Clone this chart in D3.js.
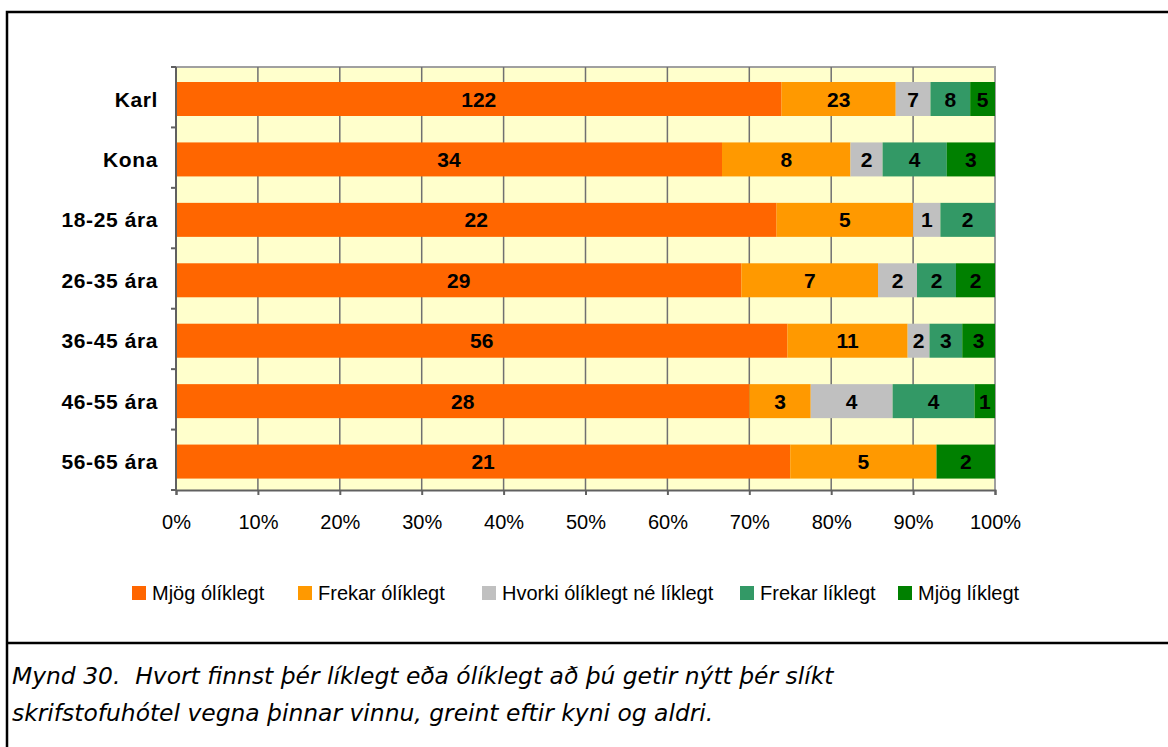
<!DOCTYPE html>
<html>
<head>
<meta charset="utf-8">
<script src="https://cdn.jsdelivr.net/npm/d3@7"></script>
<style>
  body { margin: 0; background: #fff; }
</style>
</head>
<body>
<div id="chart"></div>
<script>
var categories = ["Karl", "Kona", "18-25 ára", "26-35 ára", "36-45 ára", "46-55 ára", "56-65 ára"];
var series = ["Mjög ólíklegt", "Frekar ólíklegt", "Hvorki ólíklegt né líklegt", "Frekar líklegt", "Mjög líklegt"];
var colors = ["#ff6600", "#ff9900", "#c0c0c0", "#339966", "#008000"];
var mjogOlik = [122, 34, 22, 29, 56, 28, 21];
var frekarOlik = [23, 8, 5, 7, 11, 3, 5];
var hvorki = [7, 2, 1, 2, 2, 4, 0];
var frekarLik = [8, 4, 2, 2, 3, 4, 0];
var mjogLik = [5, 3, 0, 2, 3, 1, 2];
var ticks = [0, 0.1, 0.2, 0.3, 0.4, 0.5, 0.6, 0.7, 0.8, 0.9, 1];
var captionLines = [
  "Mynd 30.  Hvort finnst þér líklegt eða ólíklegt að þú getir nýtt þér slíkt",
  "skrifstofuhótel vegna þinnar vinnu, greint eftir kyni og aldri."
];

var rows = categories.map(function (c, i) {
  return { cat: c, vals: [mjogOlik[i], frekarOlik[i], hvorki[i], frekarLik[i], mjogLik[i]] };
});
var table = rows.map(function (r) {
  var o = { cat: r.cat };
  var total = d3.sum(r.vals);
  series.forEach(function (s, j) { o[s] = r.vals[j] / total; });
  o.raw = r.vals;
  return o;
});
var stacked = d3.stack().keys(series)(table);

var W = 1168, H = 747;
var svg = d3.select("#chart").append("svg")
    .attr("width", W)
    .attr("height", H)
    .attr("font-family", "Arial, 'Liberation Sans', sans-serif");

var pLeft = 176, pRight = 995, pTop = 67, pBottom = 490;
var x = d3.scaleLinear().domain([0, 1]).range([pLeft, pRight]);
var y = d3.scaleBand().domain(categories).range([pTop, pBottom]);

// outer frame
svg.append("path")
    .attr("d", "M7,747 V12 H1168 M7,643 H1168")
    .attr("fill", "none")
    .attr("stroke", "#000")
    .attr("stroke-width", 2.5);

// plot background
svg.append("rect")
    .attr("x", pLeft).attr("y", pTop)
    .attr("width", pRight - pLeft).attr("height", pBottom - pTop)
    .attr("fill", "#ffffcc");
svg.append("path")
    .attr("d", "M" + pLeft + "," + pTop + " H" + pRight + " V" + pBottom)
    .attr("fill", "none")
    .attr("stroke", "#a0a0a0")
    .attr("stroke-width", 2);

// grid lines
svg.append("g").selectAll("line")
    .data(ticks.slice(1, -1)).enter().append("line")
    .attr("x1", function (d) { return x(d); })
    .attr("x2", function (d) { return x(d); })
    .attr("y1", pTop).attr("y2", pBottom)
    .attr("stroke", "#707070")
    .attr("stroke-width", 1.5);

// bars
var layer = svg.append("g").selectAll("g")
    .data(stacked).enter().append("g")
    .attr("fill", function (d, i) { return colors[i]; });
layer.selectAll("rect")
    .data(function (d) { return d; }).enter().append("rect")
    .attr("x", function (d) { return x(d[0]); })
    .attr("width", function (d) { return x(d[1]) - x(d[0]); })
    .attr("y", function (d) { return y(d.data.cat) + 15; })
    .attr("height", 34);

// value labels
stacked.forEach(function (s, j) {
  svg.append("g").selectAll("text")
      .data(s.filter(function (d) { return d.data.raw[j] > 0; })).enter().append("text")
      .attr("x", function (d) { return (x(d[0]) + x(d[1])) / 2; })
      .attr("y", function (d) { return y(d.data.cat) + 32; })
      .attr("dy", "0.36em")
      .attr("text-anchor", "middle")
      .attr("font-size", "21px")
      .attr("font-weight", "bold")
      .attr("fill", "#000")
      .text(function (d) { return d.data.raw[j]; });
});

// x axis
var xAxis = d3.axisBottom(x)
    .tickValues(ticks)
    .tickSize(5)
    .tickPadding(20)
    .tickFormat(d3.format(".0%"));
var gx = svg.append("g")
    .attr("transform", "translate(0," + pBottom + ")")
    .call(xAxis);
gx.select(".domain").attr("stroke", "#606060").attr("stroke-width", 2);
gx.selectAll(".tick line").attr("stroke", "#606060").attr("stroke-width", 2);
gx.selectAll("text")
    .attr("font-size", "20px")
    .attr("font-family", "Arial, 'Liberation Sans', sans-serif")
    .attr("fill", "#000");

// y axis
var gy = svg.append("g")
    .attr("transform", "translate(" + pLeft + ",0)");
gy.append("line")
    .attr("x1", 0).attr("x2", 0)
    .attr("y1", pTop).attr("y2", pBottom)
    .attr("stroke", "#606060").attr("stroke-width", 2);
gy.selectAll(".ytick")
    .data(categories.concat(["end"])).enter().append("line")
    .attr("x1", -5).attr("x2", 0)
    .attr("y1", function (d, i) { return pTop + i * y.bandwidth(); })
    .attr("y2", function (d, i) { return pTop + i * y.bandwidth(); })
    .attr("stroke", "#606060").attr("stroke-width", 2);
gy.selectAll(".ylab")
    .data(categories).enter().append("text")
    .attr("x", -18)
    .attr("y", function (d) { return y(d) + 32; })
    .attr("dy", "0.36em")
    .attr("text-anchor", "end")
    .attr("font-size", "21px")
    .attr("letter-spacing", "0.6px")
    .attr("font-weight", "bold")
    .text(function (d) { return d; });

// legend
var legendX = [132, 298, 482, 740, 898];
var lg = svg.append("g").selectAll("g")
    .data(series).enter().append("g")
    .attr("transform", function (d, i) { return "translate(" + legendX[i] + ",586)"; });
lg.append("rect")
    .attr("width", 14).attr("height", 14)
    .attr("fill", function (d, i) { return colors[i]; });
lg.append("text")
    .attr("x", 20).attr("y", 7)
    .attr("dy", "0.35em")
    .attr("font-size", "20px")
    .attr("fill", "#000")
    .text(function (d) { return d; });

// caption
svg.append("g").selectAll("text")
    .data(captionLines).enter().append("text")
    .attr("x", 12)
    .attr("y", function (d, i) { return 684 + i * 37; })
    .attr("font-family", "'DejaVu Sans', Verdana, sans-serif")
    .attr("font-style", "italic")
    .attr("font-size", "23.4px")
    .attr("fill", "#000")
    .style("white-space", "pre")
    .text(function (d) { return d; });
</script>
</body>
</html>
